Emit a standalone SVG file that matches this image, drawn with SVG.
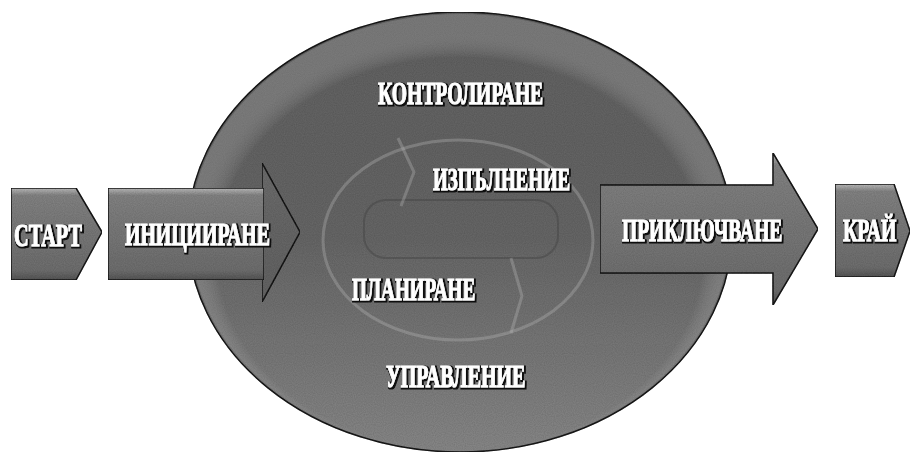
<svg xmlns="http://www.w3.org/2000/svg" width="913" height="458" viewBox="0 0 913 458">
  <defs>
    <linearGradient id="ellG" x1="0" y1="0" x2="0" y2="1">
      <stop offset="0" stop-color="#656565"/>
      <stop offset="0.5" stop-color="#6a6a6a"/>
      <stop offset="1" stop-color="#8c8c8c"/>
    </linearGradient>
    <radialGradient id="rimG" cx="0.5" cy="0.55" r="0.5">
      <stop offset="0.9" stop-color="#ffffff" stop-opacity="0"/>
      <stop offset="1" stop-color="#b0b0b0" stop-opacity="0.3"/>
    </radialGradient>
    <linearGradient id="boxG" x1="0" y1="0" x2="0" y2="1">
      <stop offset="0" stop-color="#c4c4c4"/>
      <stop offset="0.08" stop-color="#878787"/>
      <stop offset="0.9" stop-color="#727272"/>
      <stop offset="1" stop-color="#585858"/>
    </linearGradient>
    <linearGradient id="headG" x1="0" y1="0" x2="0" y2="1">
      <stop offset="0" stop-color="#707070"/>
      <stop offset="1" stop-color="#666666"/>
    </linearGradient>
    <filter id="noise" x="0" y="0" width="100%" height="100%">
      <feTurbulence type="fractalNoise" baseFrequency="0.9" numOctaves="1" seed="3" result="n"/>
      <feColorMatrix in="n" type="matrix" values="0 0 0 0 0  0 0 0 0 0  0 0 0 0 0  0 0 0 0.35 0" result="a"/>
      <feComposite in="a" in2="SourceGraphic" operator="in" result="m"/>
      <feMerge><feMergeNode in="SourceGraphic"/><feMergeNode in="m"/></feMerge>
    </filter>
    <filter id="tx" x="-10%" y="-30%" width="120%" height="160%">
      <feMorphology in="SourceAlpha" operator="dilate" radius="1" result="d"/>
      <feOffset in="d" dx="1" dy="1" result="o"/>
      <feFlood flood-color="#111111" result="c"/>
      <feComposite in="c" in2="o" operator="in" result="s"/>
      <feMerge><feMergeNode in="s"/><feMergeNode in="SourceGraphic"/></feMerge>
    </filter>
  </defs>
  <style>
    .shape { stroke:#1a1a1a; stroke-width:1.5; }
    .box { fill:url(#boxG); }
    .lbl { font-family:"Liberation Serif","DejaVu Serif",serif; font-weight:700; font-size:32px; fill:#ffffff; stroke:#ffffff; stroke-width:1; filter:url(#tx); }
    .cyc { fill:none; stroke:#b8b8b8; stroke-opacity:0.35; stroke-width:3; }
    .cycd { fill:none; stroke:#3a3a3a; stroke-opacity:0.35; stroke-width:2; }
  </style>
  <rect width="913" height="458" fill="#ffffff"/>

  <g id="management">
    <ellipse cx="460" cy="232" rx="272" ry="220" fill="url(#ellG)" class="shape" filter="url(#noise)"/>
    <ellipse cx="460" cy="232" rx="270" ry="218" fill="url(#rimG)"/>
    <text class="lbl" transform="translate(386,387) scale(0.7,1)" textLength="199" lengthAdjust="spacingAndGlyphs">УПРАВЛЕНИЕ</text>
  </g>

  <g id="connectors">
    <ellipse class="cyc" cx="458" cy="240" rx="135" ry="100"/>
    <rect class="cycd" x="364" y="200" width="194" height="58" rx="22"/>
    <polyline class="cyc" points="398,138 414,172 401,206"/>
    <polyline class="cyc" points="511,258 522,296 511,333"/>
  </g>

  <g id="start">
    <polygon class="box shape" points="11,188 76,188 102,232 76,280 11,280" filter="url(#noise)"/>
    <text class="lbl" transform="translate(14,246) scale(0.7,1)" textLength="97" lengthAdjust="spacingAndGlyphs">СТАРТ</text>
  </g>

  <g id="initiating">
    <polygon fill="url(#headG)" class="shape" points="262,188 262,163 300,232 262,302 262,280" filter="url(#noise)"/>
    <polygon class="box shape" points="108,188 264,188 264,280 108,280" filter="url(#noise)"/>
    <text class="lbl" transform="translate(125,245) scale(0.7,1)" textLength="207" lengthAdjust="spacingAndGlyphs">ИНИЦИИРАНЕ</text>
  </g>

  <g id="controlling">
    <text class="lbl" transform="translate(378,104) scale(0.7,1)" textLength="236" lengthAdjust="spacingAndGlyphs">КОНТРОЛИРАНЕ</text>
  </g>

  <g id="executing">
    <text class="lbl" transform="translate(433,190) scale(0.7,1)" textLength="196" lengthAdjust="spacingAndGlyphs">ИЗПЪЛНЕНИЕ</text>
  </g>

  <g id="planning">
    <text class="lbl" transform="translate(352,300) scale(0.7,1)" textLength="176" lengthAdjust="spacingAndGlyphs">ПЛАНИРАНЕ</text>
  </g>

  <g id="closing">
    <polygon class="box shape" points="600,185 773,185 773,153 818,229 773,305 773,273 600,273" filter="url(#noise)"/>
    <text class="lbl" transform="translate(622,241) scale(0.7,1)" textLength="229" lengthAdjust="spacingAndGlyphs">ПРИКЛЮЧВАНЕ</text>
  </g>

  <g id="end">
    <polygon class="box shape" points="835,184 894,184 910,231 894,277 835,277" filter="url(#noise)"/>
    <text class="lbl" transform="translate(843,241) scale(0.7,1)" textLength="76" lengthAdjust="spacingAndGlyphs">КРАЙ</text>
  </g>
</svg>
